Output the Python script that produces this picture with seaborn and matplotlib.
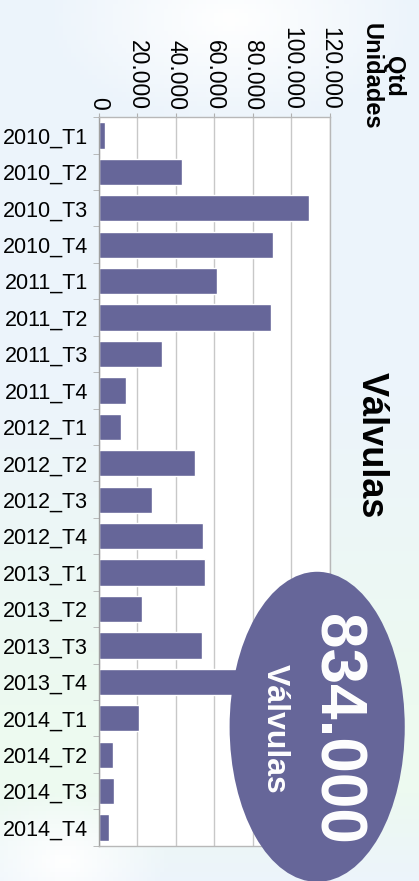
import matplotlib
matplotlib.use("Agg")
import matplotlib.pyplot as plt
from matplotlib.patches import Ellipse
from matplotlib.ticker import FuncFormatter, FixedLocator
import numpy as np
import pandas as pd
import seaborn as sns

# dados
trimestres = ["2010_T1", "2010_T2", "2010_T3", "2010_T4",
              "2011_T1", "2011_T2", "2011_T3", "2011_T4",
              "2012_T1", "2012_T2", "2012_T3", "2012_T4",
              "2013_T1", "2013_T2", "2013_T3", "2013_T4",
              "2014_T1", "2014_T2", "2014_T3", "2014_T4"]
unidades = [3000, 43000, 109000, 90500,
            61500, 89500, 33000, 14300,
            11700, 50000, 27800, 54300,
            55300, 22600, 53800, 72500,
            21000, 7500, 8000, 5500]
total_txt = "834.000"
ticks_valor = [0, 20000, 40000, 60000, 80000, 100000, 120000]

cor_barra = "#666699"

sns.set_style("white")
plt.rcParams["font.family"] = ["Liberation Sans", "DejaVu Sans"]
plt.rcParams["text.color"] = "black"
plt.rcParams["xtick.color"] = "black"
plt.rcParams["ytick.color"] = "black"

df = pd.DataFrame({"trimestre": trimestres, "qtd": unidades})

fig = plt.figure(figsize=(4.19, 8.81), dpi=100)

# fundo com degradê suave
bg = fig.add_axes([0, 0, 1, 1], zorder=-10)
h, w = 200, 100
yy, xx = np.mgrid[0:1:h * 1j, 0:1:w * 1j]
azul = np.array([236, 244, 251]) / 255
verde = np.array([237, 250, 240]) / 255
t = np.clip((yy - 0.45) / 0.35, 0, 1) * np.clip((1.0 - yy) / 0.1, 0, 1)
img = azul * (1 - t[..., None]) + verde * t[..., None]
branco = np.clip(1 - np.hypot((xx - 0.55) / 0.45, (yy - 0.02) / 0.12), 0, 1)
branco2 = np.clip(1 - np.hypot((xx - 0.15) / 0.25, (yy - 0.98) / 0.08), 0, 1)
branco = np.maximum(branco, branco2)
img = img * (1 - branco[..., None]) + branco[..., None]
bg.imshow(img, aspect="auto", extent=[0, 1, 0, 1], origin="upper")
bg.axis("off")

ax = fig.add_axes([0.236, 0.040, 0.551, 0.827])
ax.set_facecolor("white")
sns.barplot(data=df, x="qtd", y="trimestre", orient="h", color=cor_barra,
            saturation=1, width=0.72, ax=ax)

ax.set_xlim(0, 120000)
ax.set_ylim(len(trimestres) - 0.5, -0.5)
ax.xaxis.tick_top()
ax.set_xticks(ticks_valor)
ax.xaxis.set_major_formatter(FuncFormatter(
    lambda v, p: "0" if v == 0 else f"{int(v):,}".replace(",", ".")))
ax.tick_params(axis="x", which="major", top=True, length=3, color="#b0b0b0",
               labelcolor="black", labelsize=16.5, rotation=-90, pad=2)
ax.grid(axis="x", color="#c8c8c8", linewidth=1)
ax.set_axisbelow(True)

ax.yaxis.set_minor_locator(FixedLocator(np.arange(-0.5, len(trimestres), 1)))
ax.tick_params(axis="y", which="major", length=0, labelsize=15.5, pad=8,
               labelcolor="black")
ax.tick_params(axis="y", which="minor", left=True, length=4, color="#b0b0b0")
ax.set_xlabel("")
ax.set_ylabel("")
for lado in ["left", "top", "bottom", "right"]:
    ax.spines[lado].set_visible(True)
    ax.spines[lado].set_color("#b8b8b8")
    ax.spines[lado].set_linewidth(1)
ax.spines["left"].set_color("#a0a0a0")

# títulos
fig.text(0.912, 0.913, "Qtd\nUnidades", rotation=-90, ha="center", va="center",
         multialignment="center", fontsize=17, fontweight="bold", linespacing=1.0)
fig.text(0.885, 0.495, "Válvulas", rotation=-90, ha="center", va="center",
         fontsize=26, fontweight="bold")

# destaque do total
fig.patches.append(Ellipse((0.757, 0.175), 0.418, 0.352, transform=fig.transFigure,
                           facecolor=cor_barra, edgecolor="none", zorder=5))
fig.text(0.800, 0.1725, total_txt, rotation=-90, ha="center", va="center",
         fontsize=46, fontweight="bold", color="white", zorder=6)
fig.text(0.656, 0.1725, "Válvulas", rotation=-90, ha="center", va="center",
         fontsize=23, fontweight="bold", color="white", zorder=6)

fig.savefig("out.png", dpi=100)
